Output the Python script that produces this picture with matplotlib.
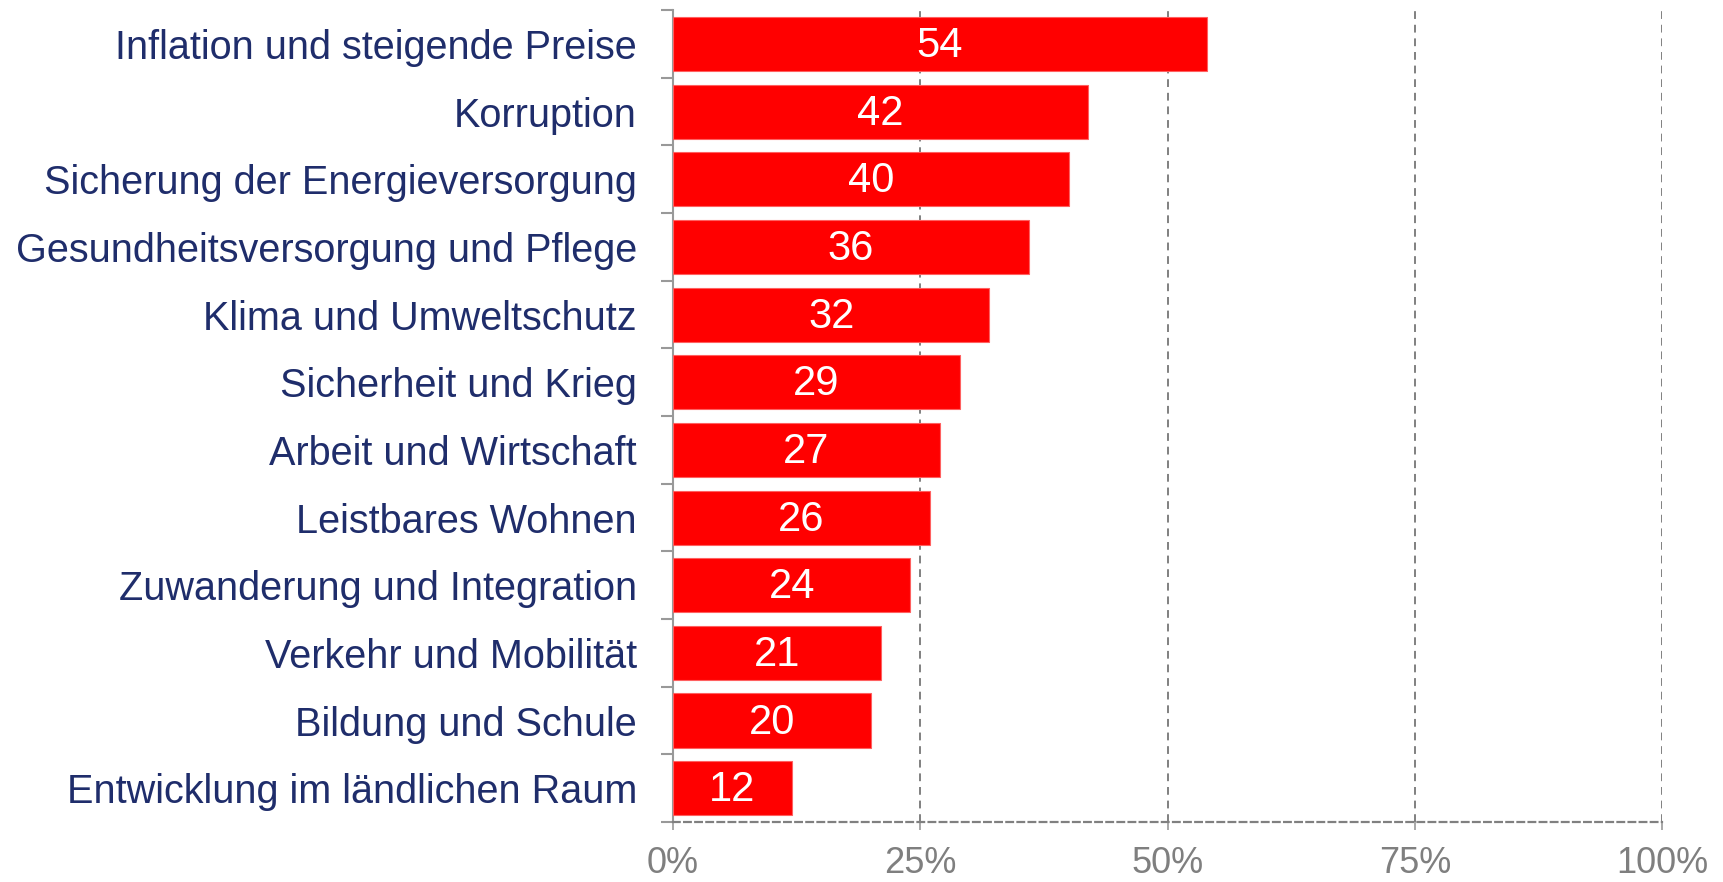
import matplotlib.pyplot as plt
import numpy as np

categories = [
    'Inflation und steigende Preise',
    'Korruption',
    'Sicherung der Energieversorgung',
    'Gesundheitsversorgung und Pflege',
    'Klima und Umweltschutz',
    'Sicherheit und Krieg',
    'Arbeit und Wirtschaft',
    'Leistbares Wohnen',
    'Zuwanderung und Integration',
    'Verkehr und Mobilität',
    'Bildung und Schule',
    'Entwicklung im ländlichen Raum',
]
values = [54, 42, 40, 36, 32, 29, 27, 26, 24, 21, 20, 12]
x_ticks = [0, 25, 50, 75, 100]
x_tick_labels = ['0%', '25%', '50%', '75%', '100%']

plt.rcParams['font.family'] = ['Liberation Sans', 'DejaVu Sans']

fig = plt.figure(figsize=(17.23, 8.82), dpi=100)
ax = fig.add_axes([0.3906, 0.068, 0.5740, 0.9205])

y = np.arange(len(categories))
bars = ax.barh(y, values, height=0.8, color='#ff0000', edgecolor='#ff6060', linewidth=0.8, zorder=3)

# Werte mittig in die Balken schreiben
for bar, v in zip(bars, values):
    ax.text(bar.get_width() / 2, bar.get_y() + bar.get_height() / 2 + 0.03, str(v),
            ha='center', va='center', color='white', fontsize=30, zorder=4)

ax.set_xlim(0, 100)
ax.set_ylim(len(categories) - 0.5, -0.5)

ax.set_yticks(y)
ax.set_yticklabels(categories, fontsize=28.5, color='#1f2d6b')
ax.set_yticks(np.arange(-0.5, len(categories), 1), minor=True)
ax.tick_params(axis='y', which='major', length=0, pad=26)
ax.tick_params(axis='y', which='minor', length=9, width=1.5, color='#999999')

ax.set_xticks(x_ticks)
ax.set_xticklabels(x_tick_labels, fontsize=26, color='#7f7f7f')
ax.tick_params(axis='x', length=6, width=1.2, color='#999999', pad=11)

ax.grid(axis='x', linestyle=(0, (4, 3)), color='#808080', linewidth=1.4, zorder=0)

for s in ['top', 'right']:
    ax.spines[s].set_visible(False)
ax.spines['left'].set_color('#999999')
ax.spines['left'].set_linewidth(1.5)
ax.spines['bottom'].set_color('#808080')
ax.spines['bottom'].set_linewidth(1.6)
ax.spines['bottom'].set_linestyle((0, (3, 2)))

fig.savefig('out.png', dpi=100)
